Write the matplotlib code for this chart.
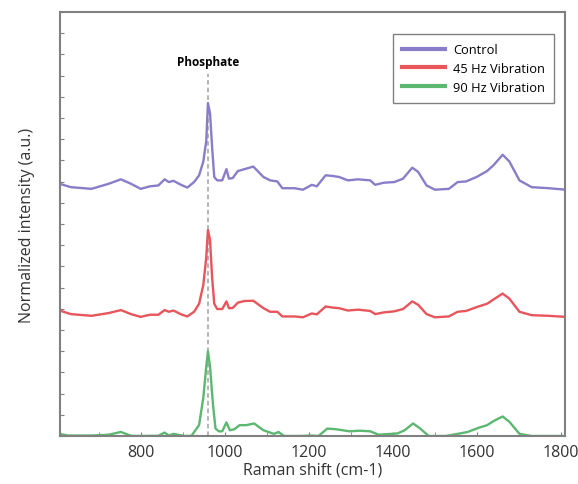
import matplotlib
matplotlib.use('Agg')
import matplotlib.pyplot as plt

plt.rcParams['font.family'] = ['Open Sans', 'DejaVu Sans']

# Raman shift positions (cm-1) and stacked, normalized intensities
control_x = [607, 634, 683, 724, 753, 777, 800, 822, 842, 857, 867, 878, 896, 911, 927, 939, 949, 956,
             960, 965, 970, 975, 982, 994, 1004, 1010, 1019, 1031, 1047, 1068, 1092, 1108, 1125, 1137,
             1166, 1186, 1207, 1219, 1240, 1256, 1272, 1293, 1317, 1346, 1358, 1378, 1403, 1424, 1446,
             1460, 1480, 1500, 1533, 1554, 1574, 1599, 1624, 1640, 1661, 1677, 1701, 1730, 1771, 1811]
control_y = [11.90, 11.74, 11.66, 11.90, 12.11, 11.90, 11.66, 11.78, 11.82, 12.11, 11.98, 12.04, 11.85,
             11.72, 11.98, 12.30, 12.95, 13.92, 15.71, 15.22, 13.60, 12.22, 12.06, 12.06, 12.59, 12.14,
             12.17, 12.50, 12.59, 12.71, 12.22, 12.06, 12.01, 11.69, 11.69, 11.62, 11.85, 11.78, 12.30,
             12.27, 12.22, 12.06, 12.11, 12.06, 11.85, 11.95, 11.98, 12.14, 12.66, 12.46, 11.82, 11.62,
             11.66, 11.98, 12.01, 12.22, 12.50, 12.79, 13.27, 12.95, 12.06, 11.74, 11.69, 11.62]

hz45_x = control_x
hz45_y = [5.92, 5.75, 5.67, 5.80, 5.94, 5.75, 5.62, 5.72, 5.72, 5.94, 5.86, 5.92, 5.74, 5.64, 5.86,
          6.24, 7.13, 8.42, 9.72, 9.24, 7.45, 6.24, 5.99, 5.99, 6.35, 6.03, 6.04, 6.29, 6.37, 6.38,
          6.03, 5.86, 5.86, 5.64, 5.64, 5.60, 5.78, 5.74, 6.11, 6.06, 6.03, 5.92, 5.96, 5.90, 5.75,
          5.83, 5.88, 5.99, 6.35, 6.19, 5.75, 5.60, 5.64, 5.86, 5.90, 6.08, 6.24, 6.45, 6.72, 6.48,
          5.86, 5.70, 5.67, 5.62]

hz90_x = [607, 627, 683, 724, 753, 777, 800, 842, 857, 867, 878, 904, 921, 939, 949, 956, 960, 965,
          972, 978, 986, 994, 1004, 1012, 1023, 1035, 1051, 1070, 1092, 1117, 1128, 1141, 1182, 1207,
          1223, 1244, 1264, 1297, 1321, 1346, 1366, 1411, 1428, 1448, 1465, 1485, 1526, 1554, 1578,
          1603, 1624, 1640, 1661, 1677, 1701, 1730, 1811]
hz90_y = [0.10, 0.02, 0.02, 0.06, 0.19, 0.01, 0.00, 0.01, 0.16, 0.02, 0.10, 0.00, 0.01, 0.52, 1.81,
          3.26, 4.00, 3.26, 1.48, 0.35, 0.22, 0.22, 0.64, 0.27, 0.32, 0.51, 0.51, 0.59, 0.27, 0.10,
          0.19, 0.00, 0.00, 0.02, 0.00, 0.35, 0.32, 0.22, 0.25, 0.22, 0.06, 0.12, 0.27, 0.59, 0.35,
          0.00, 0.00, 0.10, 0.19, 0.38, 0.51, 0.71, 0.92, 0.67, 0.10, 0.00, 0.00]

labels = ['Control', '45 Hz Vibration', '90 Hz Vibration']
colors = ['#8b7cc9', '#e8555b', '#5cb870']
phosphate_x = 961

fig = plt.figure(figsize=(5.78, 4.85), dpi=100)
ax = fig.add_axes([0.103, 0.099, 0.875, 0.874])

ax.plot(control_x, control_y, color=colors[0], lw=1.7, label=labels[0])
ax.plot(hz45_x, hz45_y, color=colors[1], lw=1.7, label=labels[1])
ax.plot(hz90_x, hz90_y, color=colors[2], lw=1.7, label=labels[2])

# dashed marker for the phosphate band
ax.plot([phosphate_x, phosphate_x], [0, 17.1], color='#a0a0a0', lw=1.1, ls=(0, (3, 2)), zorder=0)
ax.text(phosphate_x, 17.35, 'Phosphate', ha='center', va='bottom', fontsize=8.5, fontweight='bold')

ax.set_xlim(607, 1810)
ax.set_ylim(0, 20)
ax.set_xticks(range(800, 1801, 200))
ax.set_xticks(range(700, 1801, 100), minor=True)
ax.set_yticks(range(0, 21))
ax.set_yticklabels([])
ax.tick_params(axis='both', which='both', direction='in', length=3, color='#808080',
               labelsize=11.5, labelcolor='#333333')
ax.tick_params(axis='x', pad=6)
for s in ax.spines.values():
    s.set_color('#808080')
    s.set_linewidth(1.5)

ax.set_xlabel('Raman shift (cm-1)', fontsize=11.5, color='#333333', labelpad=1)
ax.set_ylabel('Normalized intensity (a.u.)', fontsize=11.5, color='#333333', labelpad=14)

leg = ax.legend(loc='upper right', bbox_to_anchor=(0.978, 0.948), borderaxespad=0,
                fontsize=9.3, handlelength=3.4, handletextpad=0.6, fancybox=False,
                edgecolor='#808080', framealpha=1, borderpad=0.7, labelspacing=0.45)
for line in leg.get_lines():
    line.set_linewidth(3)
leg.get_frame().set_linewidth(1.0)

fig.savefig('out.png', dpi=100)
